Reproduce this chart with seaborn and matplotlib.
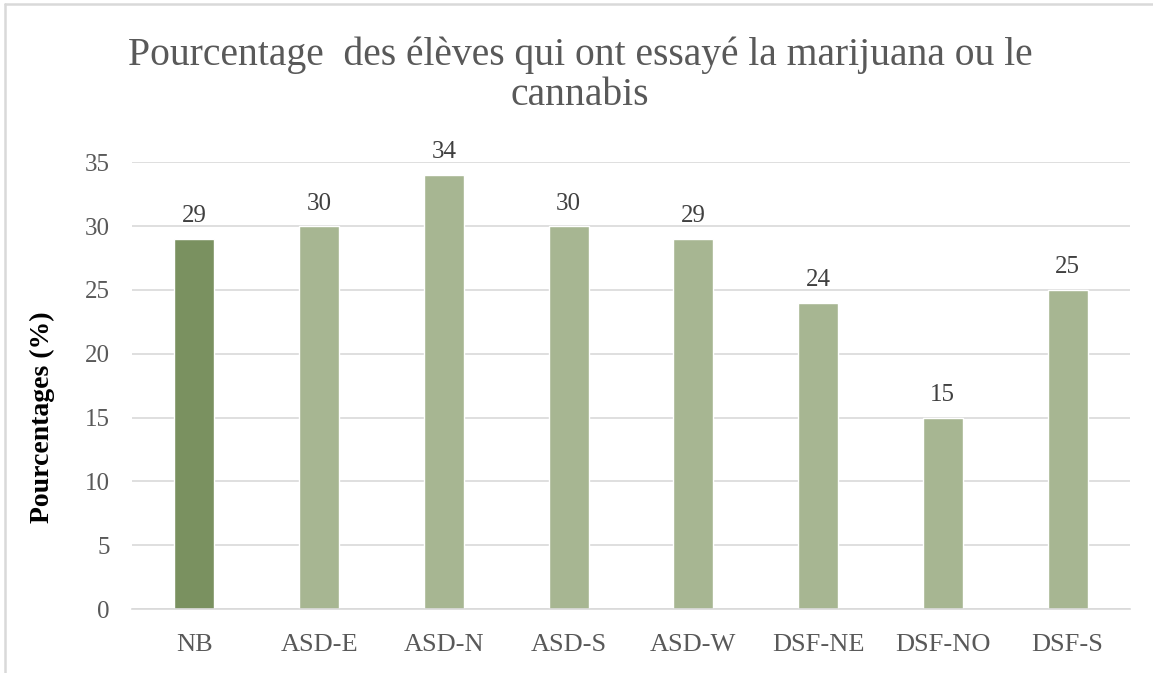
import matplotlib
matplotlib.use("Agg")
import matplotlib.pyplot as plt
import seaborn as sns
import pandas as pd
from matplotlib.lines import Line2D

categories = ["NB", "ASD-E", "ASD-N", "ASD-S", "ASD-W", "DSF-NE", "DSF-NO", "DSF-S"]
values = [29, 30, 34, 30, 29, 24, 15, 25]
yticks = [0, 5, 10, 15, 20, 25, 30, 35]

sns.set_theme(style="white")
plt.rcParams['font.family'] = ['Liberation Serif', 'DejaVu Serif']

df = pd.DataFrame({"cat": categories, "val": values})
palette = ["#7A9160"] + ["#A7B692"] * (len(categories) - 1)

fig = plt.figure(figsize=(11.53, 6.73), dpi=100)
ax = fig.add_axes([0.1145, 0.095, 0.8655, 0.664])
sns.barplot(data=df, x="cat", y="val", hue="cat", palette=palette, legend=False,
            width=0.32, ax=ax, saturation=1)

ax.set_ylim(0, 35)
ax.set_yticks(yticks)
ax.set_xlim(-0.5, len(categories) - 0.5)
ax.yaxis.grid(True, color="#D9D9D9", linewidth=1.2)
ax.set_axisbelow(True)
for s in ["top", "right", "left"]:
    ax.spines[s].set_visible(False)
ax.spines["bottom"].set_color("#D9D9D9")
ax.spines["bottom"].set_linewidth(1.2)
ax.tick_params(axis="y", length=0, labelsize=18, colors="#595959", pad=16)
ax.tick_params(axis="x", length=0, labelsize=19, colors="#595959", pad=18)
ax.set_xlabel("")
ax.set_ylabel("Pourcentages (%)", fontsize=20, fontweight="bold", color="black")
ax.yaxis.set_label_coords(-0.077, 0.43)

for i, v in enumerate(values):
    ax.text(i, v + 0.9, str(v), ha="center", va="bottom", fontsize=18, color="#404040")

fig.text(0.503, 0.831, "Pourcentage  des élèves qui ont essayé la marijuana ou le\ncannabis",
         ha="center", va="bottom", fontsize=28.5, color="#595959", linespacing=1.1)

fig.add_artist(Line2D([5 / 1153, 1], [1 - 4 / 673, 1 - 4 / 673], transform=fig.transFigure,
                      color="#D9D9D9", linewidth=1.8))
fig.add_artist(Line2D([5 / 1153, 5 / 1153], [0, 1 - 4 / 673], transform=fig.transFigure,
                      color="#D9D9D9", linewidth=1.8))

fig.savefig("out.png", dpi=100)
